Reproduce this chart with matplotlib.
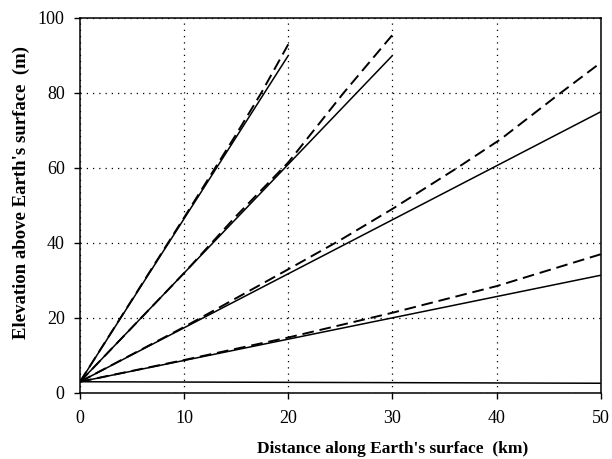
import matplotlib.pyplot as plt

# distancia (km) e elevacao (m)
solido_x = [[0, 50], [0, 50], [0, 50], [0, 30], [0, 20]]
solido_y = [[3, 2.6], [3, 31.4], [3, 75], [3, 90], [3, 90]]

trac_d_x = [0, 10, 20, 30, 40, 50]
trac_d_y = [3, 8.8, 14.8, 21.4, 28.5, 37]
trac_c_x = [0, 10, 20, 25, 30, 36.2, 40.4, 45.8, 50]
trac_c_y = [3, 17.6, 33, 40.8, 49.1, 60, 67.7, 79.3, 88.1]
trac_b_x = [0, 10, 15, 20, 25.3, 30]
trac_b_y = [3, 32, 47.2, 61.5, 80, 95.5]
trac_a_x = [0, 10, 15, 17.4, 20]
trac_a_y = [3, 46.8, 69, 80, 93]

x_ticks = [0, 10, 20, 30, 40, 50]
y_ticks = [0, 20, 40, 60, 80, 100]

plt.rcParams['font.family'] = ['Liberation Serif', 'DejaVu Serif']

fig = plt.figure(figsize=(6.12, 4.59), dpi=100)
ax = fig.add_axes([0.1307, 0.1438, 0.851, 0.817])

for xs, ys in zip(solido_x, solido_y):
    ax.plot(xs, ys, color='black', lw=1.1, solid_capstyle='butt')

for xs, ys in [(trac_d_x, trac_d_y), (trac_c_x, trac_c_y),
               (trac_b_x, trac_b_y), (trac_a_x, trac_a_y)]:
    ax.plot(xs, ys, color='black', lw=1.4, linestyle=(0, (6, 3)))

ax.set_xlim(0, 50)
ax.set_ylim(0, 100)
ax.set_xticks(x_ticks)
ax.set_yticks(y_ticks)
ax.grid(True, color='black', linestyle=(0, (1, 4)), lw=0.9)
ax.tick_params(direction='out', length=4, width=1, labelsize=13, colors='black')
ax.tick_params(axis='x', pad=8)
ax.tick_params(axis='y', pad=7)
for s in ax.spines.values():
    s.set_linewidth(1.1)

ax.set_xlabel("Distance along Earth's surface  (km)", fontsize=12.5,
              fontweight='bold')
ax.xaxis.set_label_coords(0.6, -0.128)
ax.set_ylabel("Elevation above Earth's surface  (m)", fontsize=13.5,
              fontweight='bold')
ax.yaxis.set_label_coords(-0.096, 0.535)

plt.savefig('out.png', dpi=100)
plt.close()
